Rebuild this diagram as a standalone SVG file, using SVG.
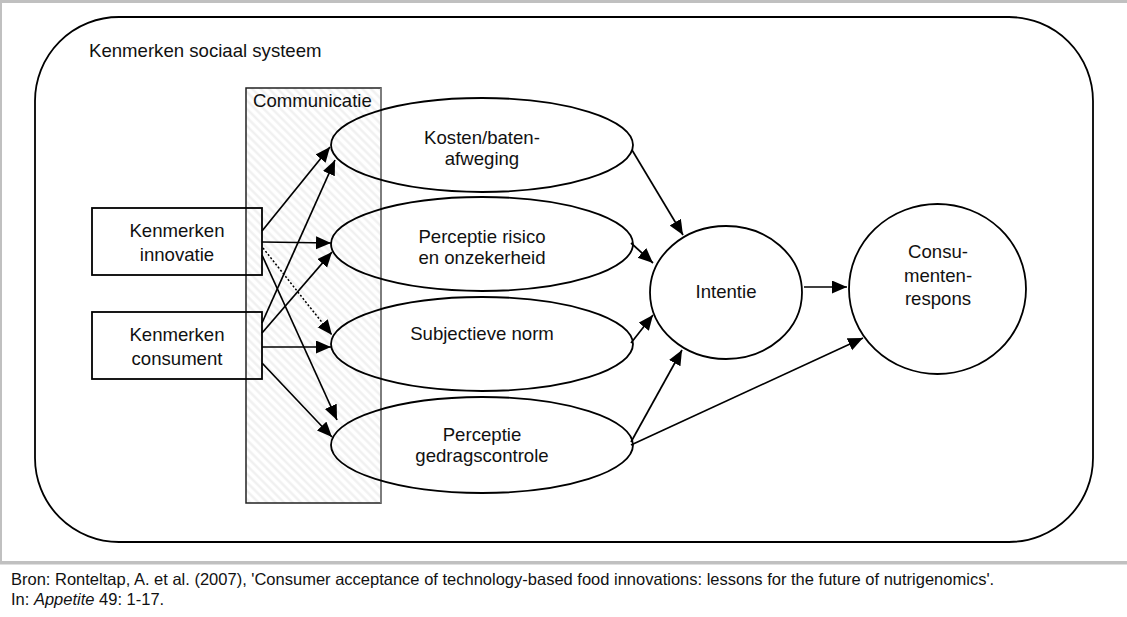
<svg xmlns="http://www.w3.org/2000/svg" width="1127" height="617" viewBox="0 0 1127 617">
<defs>
<style>
.t{font-family:"Liberation Sans",Arial,sans-serif;font-size:18.6px;fill:#111;}
.c{text-anchor:middle;}
.cap{font-family:"Liberation Sans",Arial,sans-serif;font-size:16.5px;fill:#111;}
.n{fill:none;stroke:#000;stroke-width:1.8;}
.e{stroke:#000;stroke-width:1.7;fill:none;marker-end:url(#ah);}
.d{stroke:#000;stroke-width:1.5;fill:none;stroke-dasharray:2 2;marker-end:url(#ah);}
.frame{fill:#c0c0c0;}
</style>
<marker id="ah" markerUnits="userSpaceOnUse" markerWidth="16" markerHeight="14" refX="15" refY="6.5" orient="auto">
<path d="M0,0 L15,6.5 L0,13 z" fill="#000"/>
</marker>
<pattern id="hatch" width="6" height="6" patternUnits="userSpaceOnUse" patternTransform="rotate(-45)">
<rect width="6" height="6" fill="#fff"/>
<line x1="1.5" y1="0" x2="1.5" y2="6" stroke="#efefef" stroke-width="2.2"/>
</pattern>
</defs>
<rect width="1127" height="617" fill="#fff"/>
<g id="frame">
<rect class="frame" x="0" y="0" width="1127" height="3"/>
<rect class="frame" x="0" y="0" width="2" height="562"/>
<rect class="frame" x="0" y="561" width="1127" height="3.5"/>
</g>
<g id="sociaal-systeem">
<rect class="n" x="35" y="17" width="1058" height="525" rx="84" ry="84"/>
<text class="t" x="89" y="57">Kenmerken sociaal systeem</text>
</g>
<g id="communicatie">
<rect x="246" y="88" width="135" height="415" fill="url(#hatch)" stroke="#222" stroke-width="1.5"/>
<line x1="381" y1="88" x2="381" y2="503" stroke="#8a8a8a" stroke-width="1.5"/>
<text class="t" x="253" y="107">Communicatie</text>
</g>
<g id="kenmerken-innovatie">
<rect class="n" x="92" y="208" width="170" height="67" fill="#fff"/>
<text class="t c" x="177" y="237">Kenmerken</text>
<text class="t c" x="177" y="261">innovatie</text>
</g>
<g id="kenmerken-consument">
<rect class="n" x="92" y="312" width="170" height="67" fill="#fff"/>
<text class="t c" x="177" y="341">Kenmerken</text>
<text class="t c" x="177" y="365">consument</text>
</g>
<g id="kosten-baten">
<ellipse class="n" cx="482" cy="145" rx="151" ry="47"/>
<text class="t c" x="482" y="144">Kosten/baten-</text>
<text class="t c" x="482" y="165">afweging</text>
</g>
<g id="perceptie-risico">
<ellipse class="n" cx="482" cy="244" rx="151" ry="47"/>
<text class="t c" x="482" y="243">Perceptie risico</text>
<text class="t c" x="482" y="264">en onzekerheid</text>
</g>
<g id="subjectieve-norm">
<ellipse class="n" cx="482" cy="344" rx="151" ry="47"/>
<text class="t c" x="482" y="340">Subjectieve norm</text>
</g>
<g id="perceptie-gedragscontrole">
<ellipse class="n" cx="482" cy="445" rx="151" ry="48"/>
<text class="t c" x="482" y="441">Perceptie</text>
<text class="t c" x="482" y="462">gedragscontrole</text>
</g>
<g id="intentie">
<ellipse class="n" cx="726" cy="292.5" rx="76" ry="66.5"/>
<text class="t c" x="726" y="298">Intentie</text>
</g>
<g id="consumentenrespons">
<ellipse class="n" cx="937.5" cy="289" rx="88.5" ry="85"/>
<text class="t c" x="938" y="258">Consu-</text>
<text class="t c" x="938" y="282">menten-</text>
<text class="t c" x="938" y="305">respons</text>
</g>
<g id="connectors">
<line class="e" x1="262" y1="231" x2="330" y2="147"/>
<line class="e" x1="262" y1="242" x2="331" y2="243"/>
<line class="d" x1="263" y1="248" x2="332" y2="335"/>
<line class="e" x1="262" y1="255" x2="337" y2="420"/>
<line class="e" x1="262" y1="323" x2="335" y2="160"/>
<line class="e" x1="262" y1="333" x2="332" y2="252"/>
<line class="e" x1="262" y1="347" x2="331" y2="347"/>
<line class="e" x1="262" y1="363" x2="332" y2="437"/>
<line class="e" x1="632" y1="150" x2="683" y2="235"/>
<line class="e" x1="631" y1="243" x2="653" y2="263"/>
<line class="e" x1="631" y1="343" x2="653" y2="315"/>
<line class="e" x1="631" y1="442" x2="682" y2="350"/>
<line class="e" x1="631" y1="445" x2="863" y2="338"/>
<line class="e" x1="804" y1="287" x2="847" y2="287"/>
</g>
<g id="caption">
<text class="cap" x="11" y="585">Bron: Ronteltap, A. et al. (2007), 'Consumer acceptance of technology-based food innovations: lessons for the future of nutrigenomics'.</text>
<text class="cap" x="11" y="605">In: <tspan font-style="italic">Appetite</tspan> 49: 1-17.</text>
</g>
</svg>
